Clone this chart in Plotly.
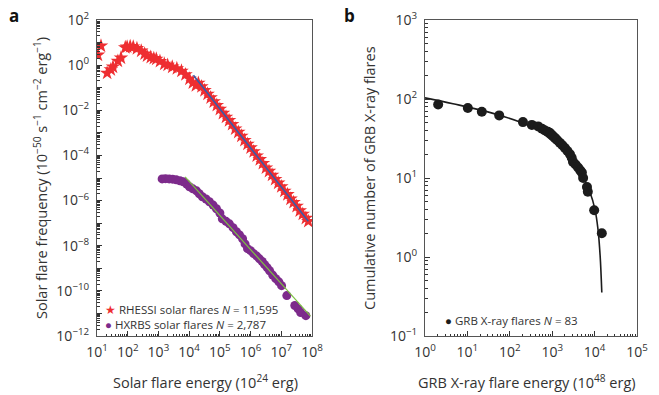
import plotly.graph_objects as go

# ---------------- Panel a data (log10 values) ----------------
rhessi_logE = [1.03, 1.13, 1.33, 1.45, 1.52, 1.68, 1.78, 1.92, 1.98, 2.08, 2.18, 2.30, 2.44, 2.55,
               2.63, 2.75, 2.85, 2.93, 3.05, 3.19, 3.30, 3.45, 3.60, 3.75, 3.88, 4.01, 4.12, 4.22,
               4.30, 4.40, 4.50, 4.60, 4.70, 4.80, 4.90, 5.00, 5.10, 5.20, 5.30, 5.40, 5.50, 5.60,
               5.70, 5.80, 5.90, 6.00, 6.10, 6.20, 6.30, 6.40, 6.50, 6.60, 6.70, 6.80, 6.90, 7.00,
               7.10, 7.20, 7.30, 7.40, 7.50, 7.60, 7.70, 7.80, 7.88]
rhessi_logF = [0.45, 0.85, -0.35, -0.20, -0.08, 0.18, 0.32, 0.78, 0.81, 0.83, 0.81, 0.74, 0.63, 0.50,
               0.41, 0.35, 0.30, 0.27, 0.17, 0.05, 0.00, -0.08, -0.15, -0.26, -0.42, -0.61, -0.78, -0.90,
               -0.80, -0.95, -1.12, -1.28, -1.44, -1.62, -1.78, -1.95, -2.13, -2.30, -2.45, -2.62, -2.82, -2.97,
               -3.14, -3.33, -3.50, -3.66, -3.83, -4.02, -4.18, -4.35, -4.55, -4.70, -4.87, -5.06, -5.22, -5.38,
               -5.58, -5.73, -5.93, -6.08, -6.25, -6.45, -6.60, -6.78, -6.92]

hxrbs_logE = [3.12, 3.23, 3.35, 3.46, 3.58, 3.70, 3.81, 3.92, 4.01, 4.12, 4.24, 4.33, 4.43, 4.55, 4.66,
              4.78, 4.89, 5.00, 5.08, 5.20, 5.31, 5.43, 5.54, 5.64, 5.74, 5.82, 5.90, 6.00, 6.10, 6.20,
              6.29, 6.38, 6.46, 6.54, 6.62, 6.72, 6.82, 6.92, 7.01, 7.18, 7.44, 7.55, 7.63, 7.80]
hxrbs_logF = [-5.04, -5.03, -5.04, -5.05, -5.08, -5.12, -5.17, -5.27, -5.39, -5.48, -5.57, -5.70, -5.83, -5.93, -6.05,
              -6.20, -6.36, -6.55, -6.81, -6.92, -7.03, -7.20, -7.38, -7.52, -7.69, -7.92, -8.13, -8.22, -8.35, -8.46,
              -8.58, -8.70, -8.84, -8.97, -9.11, -9.30, -9.46, -9.60, -9.77, -10.21, -10.65, -10.80, -10.96, -11.10]

rhessi_fit_logE = [4.14, 7.88]
rhessi_fit_logF = [-0.45, -6.92]
hxrbs_fit_logE = [3.87, 7.95]
hxrbs_fit_logF = [-4.95, -11.12]

# ---------------- Panel b data ----------------
grb_logE = [0.31, 1.01, 1.34, 1.75, 2.31, 2.52, 2.67, 2.76, 2.83, 2.90, 2.95, 3.01, 3.07, 3.12, 3.18,
            3.24, 3.30, 3.36, 3.42, 3.46, 3.49, 3.55, 3.61, 3.66, 3.70, 3.73, 3.82, 3.84, 3.99, 4.17]
grb_N = [85, 77, 69, 62, 51, 47, 45, 42, 40, 38.5, 37, 34.5, 32, 30, 28,
         26, 24, 22, 20, 18, 16, 14.8, 13.6, 12.5, 11.7, 10, 7.7, 6.7, 3.9, 2.0]
grb_fit_logE = [0.00, 0.66, 1.46, 2.24, 2.64, 3.02, 3.35, 3.58, 3.73, 3.89, 4.01, 4.08, 4.13, 4.17]
grb_fit_logN = [2.015, 1.94, 1.84, 1.71, 1.62, 1.46, 1.32, 1.14, 1.00, 0.82, 0.60, 0.35, 0.02, -0.45]

# tick labels
a_x_exp = list(range(1, 9))
a_y_exp = list(range(-12, 3))
b_x_exp = list(range(0, 6))
b_y_exp = list(range(-1, 4))

legend_a = ["RHESSI solar flares <i>N</i> = 11,595", "HXRBS solar flares <i>N</i> = 2,787"]
legend_b = "GRB X-ray flares <i>N</i> = 83"


def sup(k):
    s = str(k).replace("-", "\u2212")
    return f"10<sup>{s}</sup>"


def minor_vals(exps):
    return [m * 10 ** k for k in exps[:-1] for m in range(2, 10)]


p = lambda arr: [10 ** v for v in arr]

RED = "#ee2e31"
PURPLE = "#7d2b8b"
BLUE = "#3a5aa8"
GREEN = "#7dc242"
BLK = "#1c1c1c"
TXT = "#333333"
FONT = "Open Sans"

fig = go.Figure()

fig.add_trace(go.Scatter(x=p(rhessi_logE), y=p(rhessi_logF), mode="markers",
                         marker=dict(symbol="star", size=11, color=RED, line=dict(width=0)),
                         showlegend=False, xaxis="x", yaxis="y"))
fig.add_trace(go.Scatter(x=p(hxrbs_logE), y=p(hxrbs_logF), mode="markers",
                         marker=dict(symbol="circle", size=9, color=PURPLE, line=dict(width=0)),
                         showlegend=False, xaxis="x", yaxis="y"))
fig.add_trace(go.Scatter(x=p(rhessi_fit_logE), y=p(rhessi_fit_logF), mode="lines",
                         line=dict(color=BLUE, width=1.6), showlegend=False, xaxis="x", yaxis="y"))
fig.add_trace(go.Scatter(x=p(hxrbs_fit_logE), y=p(hxrbs_fit_logF), mode="lines",
                         line=dict(color=GREEN, width=1.2), showlegend=False, xaxis="x", yaxis="y"))

fig.add_trace(go.Scatter(x=p(grb_logE), y=grb_N, mode="markers",
                         marker=dict(symbol="circle", size=10, color=BLK, line=dict(width=0)),
                         showlegend=False, xaxis="x2", yaxis="y2"))
fig.add_trace(go.Scatter(x=p(grb_fit_logE), y=p(grb_fit_logN), mode="lines",
                         line=dict(color=BLK, width=1.6, shape="spline"), showlegend=False,
                         xaxis="x2", yaxis="y2"))

Y0, Y1 = 1 - 336 / 395, 1 - 20 / 395


def axis(domain, rng, anchor, exps, labels, **extra):
    return dict(type="log", domain=domain, range=rng, anchor=anchor,
                showgrid=False, zeroline=False, showline=True, mirror=True,
                linecolor="#555555", linewidth=1, ticks="inside", ticklen=5, tickcolor="#333333",
                tickfont=dict(family=FONT, size=14, color=TXT), tickmode="array",
                tickvals=[10 ** k for k in exps], ticktext=labels,
                minor=dict(ticks="inside", ticklen=2.5, tickcolor="#333333", showgrid=False,
                           tickmode="array", tickvals=minor_vals(exps)),
                automargin=False, **extra)


def ann(text, x, y, size=14.5, **kw):
    return dict(text=text, x=x / 659, y=1 - y / 395, xref="paper", yref="paper",
                xanchor=kw.pop("xanchor", "center"), yanchor="middle", showarrow=False,
                font=dict(family=FONT, size=size, color=kw.pop("color", TXT)), **kw)


fig.update_layout(
    width=659, height=395,
    margin=dict(l=0, r=0, t=0, b=0),
    paper_bgcolor="white", plot_bgcolor="white",
    font=dict(family=FONT, color=TXT),
    showlegend=False,
    xaxis=axis([97 / 659, 312 / 659], [1, 8], "y", a_x_exp, [sup(k) for k in a_x_exp],
               ticklabelstandoff=3),
    yaxis=axis([Y0, Y1], [-12, 2], "x", a_y_exp,
               [sup(k) if k % 2 == 0 else "" for k in a_y_exp], ticklabelstandoff=4),
    xaxis2=axis([425 / 659, 637 / 659], [0, 5], "y2", b_x_exp, [sup(k) for k in b_x_exp],
                ticklabelstandoff=3),
    yaxis2=axis([Y0, Y1], [-1, 3], "x2", b_y_exp, [sup(k) for k in b_y_exp], ticklabelstandoff=4),
    annotations=[
        ann("<b>a</b>", 14, 16, size=17, color="#111111"),
        ann("<b>b</b>", 349, 16, size=17, color="#111111"),
        ann("Solar flare energy (10<sup>24</sup> erg)", 205, 381),
        ann("GRB X-ray flare energy (10<sup>48</sup> erg)", 527, 381),
        ann("Solar flare frequency (10<sup>\u221250</sup> s<sup>\u22121</sup> cm<sup>\u22122</sup> erg<sup>\u22121</sup>)",
            41, 178, textangle=-90),
        ann("Cumulative number of GRB X-ray flares", 370, 178, textangle=-90),
        ann(f'<span style="color:{RED}">\u2605</span> ' + legend_a[0], 103, 309, size=11.5,
            xanchor="left"),
        ann(f'<span style="color:{PURPLE}">\u25cf</span> ' + legend_a[1], 103, 324, size=11.5,
            xanchor="left"),
        ann(f'<span style="color:{BLK}">\u25cf</span> ' + legend_b, 443, 320, size=11.5,
            xanchor="left"),
    ],
)

fig.write_html("out.html", config={"displayModeBar": False},
               post_script="document.body.style.margin='0';")
